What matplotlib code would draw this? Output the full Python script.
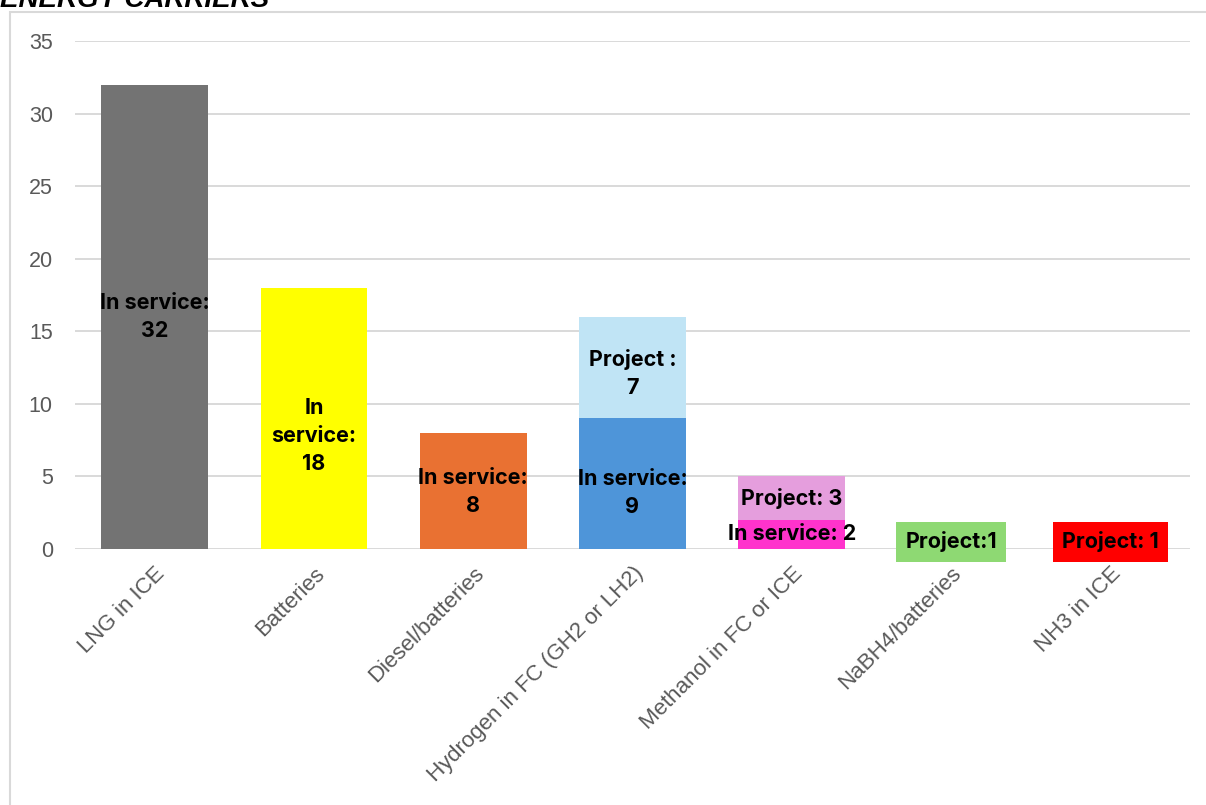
import numpy as np
import matplotlib.pyplot as plt
from matplotlib.patches import Rectangle

categories = ["LNG in ICE", "Batteries", "Diesel/batteries", "Hydrogen in FC (GH2 or LH2)",
              "Methanol in FC or ICE", "NaBH4/batteries", "NH3 in ICE"]
in_service = [32, 18, 8, 9, 2, 0, 0]
project = [0, 0, 0, 7, 3, 1, 1]
service_labels = ["In service:\n32", "In\nservice:\n18", "In service:\n8", "In service:\n9",
                  "In service: 2", "", ""]
project_labels = ["", "", "", "Project :\n7", "Project: 3", "Project:1", "Project: 1"]
service_colors = ["#737373", "#FFFF00", "#E97132", "#4E95D9", "#FF33CC", "#8ED973", "#FF0000"]
project_colors = ["#737373", "#FFFF00", "#E97132", "#C0E4F5", "#E59EDD", "#8ED973", "#FF0000"]

# small vertical nudges (points) so labels sit like in the original
service_nudge = [0, -13, -1, -7, 0, 0, 0]
project_nudge = [0, 0, 0, -4, 0, 0, 0]

fig = plt.figure(figsize=(12.06, 8.05), dpi=100)
ax = fig.add_axes([75 / 1206, (805 - 549) / 805, (1190 - 75) / 1206, (549 - 41) / 805])

# outer chart frame
fig.patches.append(Rectangle((10 / 1206, -0.05), 1.1, (805 - 12) / 805 + 0.05,
                             transform=fig.transFigure, fill=False,
                             edgecolor="#D9D9D9", lw=1.5))

x = np.arange(len(categories))
w = 0.67
ax.bar(x, in_service, w, color=service_colors, zorder=2)
ax.bar(x, project, w, bottom=in_service, color=project_colors, zorder=2)

lab_font = dict(family=["Inter", "DejaVu Sans"], fontsize=15.5, fontweight="bold",
                color="black", ha="center", va="center", linespacing=1.5, zorder=5,
                textcoords="offset points")
for i in range(len(categories)):
    if service_labels[i]:
        ax.annotate(service_labels[i], (x[i], in_service[i] / 2),
                    xytext=(0, service_nudge[i]), **lab_font)
    if project_labels[i]:
        mid = in_service[i] + project[i] / 2
        box = None
        if in_service[i] == 0:
            box = dict(boxstyle="square,pad=0.44", facecolor=project_colors[i], edgecolor="none")
        ax.annotate(project_labels[i], (x[i], mid), xytext=(0, project_nudge[i]),
                    bbox=box, **lab_font)

ax.set_xlim(-0.5, len(categories) - 0.5)
ax.set_ylim(0, 35)
ax.set_yticks(range(0, 36, 5))
ax.yaxis.grid(True, color="#D9D9D9", lw=1.4, zorder=0)
ax.set_axisbelow(True)
for s in ax.spines.values():
    s.set_visible(False)
ax.tick_params(length=0, colors="#595959", labelsize=15.5, pad=16)
ax.tick_params(axis="x", pad=10)
ax.set_xticks(x)
ax.set_xticklabels(categories, rotation=45, ha="right", va="top", rotation_mode="anchor",
                   family="Liberation Sans", fontsize=16, color="#595959")
for t in ax.get_yticklabels():
    t.set_family("Liberation Sans")

fig.text(0.0, 0.991, "ENERGY CARRIERS", fontsize=20, fontweight="bold", fontstyle="italic",
         family="Liberation Sans", va="baseline", ha="left")

fig.savefig("out.png", dpi=100)
